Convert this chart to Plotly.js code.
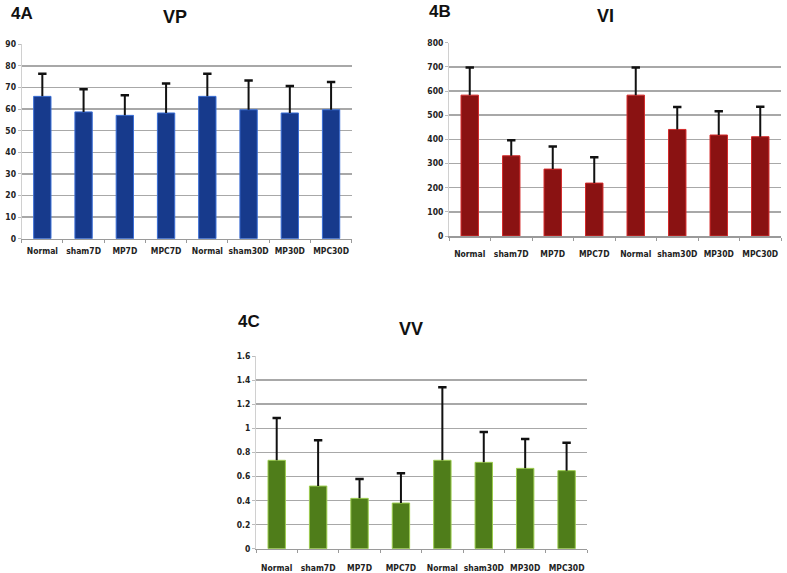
<!DOCTYPE html>
<html>
<head>
<meta charset="utf-8">
<script src="https://cdn.plot.ly/plotly-3.0.1.min.js"></script>
<style>html,body{margin:0;padding:0;background:#fff;}#chart{width:787px;height:573px;}</style>
</head>
<body>
<div id="chart"></div>
<script>
// ---- data ----
const categories = ["Normal", "sham7D", "MP7D", "MPC7D", "Normal", "sham30D", "MP30D", "MPC30D"];
const vpMean = [65.9, 58.7, 57.1, 58.2, 65.9, 59.7, 58.2, 59.7];
const vpSD   = [10.5, 10.5, 9.3, 13.6, 10.5, 13.5, 12.5, 12.9];
const viMean = [583, 332, 277, 219, 583, 441, 418, 411];
const viSD   = [114, 64, 93, 107, 114, 93, 98, 124];
const vvMean = [0.734, 0.52, 0.418, 0.379, 0.734, 0.717, 0.667, 0.648];
const vvSD   = [0.351, 0.38, 0.161, 0.247, 0.606, 0.252, 0.244, 0.232];
const panelLabels = ["4A", "4B", "4C"];
const panelTitles = ["VP", "VI", "VV"];

const W = 787, H = 573;
const xIdx = categories.map((_, i) => i);

function panelTraces(mean, sd, fill, edge, xa, ya) {
  const top = mean.map((m, i) => m + sd[i]);
  const sx = [], sy = [];
  mean.forEach((m, i) => { sx.push(i, i, null); sy.push(m, top[i], null); });
  return [
    {type: "bar", x: xIdx, y: mean, xaxis: xa, yaxis: ya,
     marker: {color: fill, line: {color: edge, width: 1}}, hoverinfo: "skip", showlegend: false},
    {type: "scatter", mode: "lines", x: sx, y: sy, xaxis: xa, yaxis: ya,
     line: {color: "#111", width: 2}, hoverinfo: "skip", showlegend: false},
    {type: "scatter", mode: "markers", x: xIdx, y: top, xaxis: xa, yaxis: ya,
     marker: {symbol: "line-ew-open", size: 6, color: "#111", line: {color: "#111", width: 2.5}}, hoverinfo: "skip", showlegend: false}
  ];
}

const tickFont = {family: "DejaVu Sans Condensed, Liberation Sans Narrow, sans-serif", size: 8.5, color: "#222", weight: "bold"};

function xAxis(domain, anchor, standoff) {
  return {
    domain: domain, anchor: anchor, range: [-0.5, 7.5], fixedrange: true,
    tickmode: "array", tickvals: xIdx, ticktext: categories, ticks: "", tickangle: 0,
    ticklabelstandoff: standoff,
    tickfont: tickFont, showgrid: false, zeroline: false,
    showline: true, linecolor: "#9a9a9a", linewidth: 1.5,
    minor: {tickmode: "array", tickvals: [-0.5,0.5,1.5,2.5,3.5,4.5,5.5,6.5,7.5], ticks: "outside", ticklen: 3, tickcolor: "#9a9a9a", showgrid: false}
  };
}
function yAxis(domain, anchor, max, dtick) {
  return {
    domain: domain, anchor: anchor, range: [0, max], dtick: dtick, fixedrange: true,
    ticks: "outside", ticklen: 3, tickcolor: "#bbb", tickfont: tickFont,
    showgrid: true, gridcolor: "#a8a8a8", gridwidth: 1.5, zeroline: false,
    showline: true, linecolor: "#d0d0d0", linewidth: 1
  };
}
const px = v => v / W;
const py = v => 1 - v / H;

const data = [].concat(
  panelTraces(vpMean, vpSD, "#173a8c", "#3b6fd6", "x", "y"),
  panelTraces(viMean, viSD, "#8a1212", "#d42a2a", "x2", "y2"),
  panelTraces(vvMean, vvSD, "#4f7d1a", "#9ccc4e", "x3", "y3")
);

function ann(text, x, y, size) {
  return {text: text, xref: "paper", yref: "paper", x: px(x), y: py(y), xanchor: "center", yanchor: "middle",
          showarrow: false, font: {family: "Liberation Sans, Arial, sans-serif", size: size, color: "#111", weight: "bold"}};
}

const layout = {
  width: W, height: H, margin: {l: 0, r: 0, t: 0, b: 0},
  paper_bgcolor: "#fff", plot_bgcolor: "#fff", bargap: 0.58,
  xaxis: xAxis([px(21.7), px(351.7)], "y", 4),
  yaxis: yAxis([py(238.7), py(44.3)], "x", 90, 10),
  xaxis2: xAxis([px(449), px(781)], "y2", 9),
  yaxis2: yAxis([py(236), py(42.7)], "x2", 800, 100),
  xaxis3: xAxis([px(256), px(587.3)], "y3", 11),
  yaxis3: yAxis([py(548.7), py(356)], "x3", 1.6, 0.2),
  annotations: [
    ann(panelLabels[0], 22, 13, 17), ann(panelTitles[0], 175, 17, 18),
    ann(panelLabels[1], 440, 11, 17), ann(panelTitles[1], 605, 16, 18),
    ann(panelLabels[2], 249, 321, 17), ann(panelTitles[2], 411, 329, 18)
  ]
};

Plotly.newPlot("chart", data, layout, {staticPlot: true, displayModeBar: false});
</script>
</body>
</html>
